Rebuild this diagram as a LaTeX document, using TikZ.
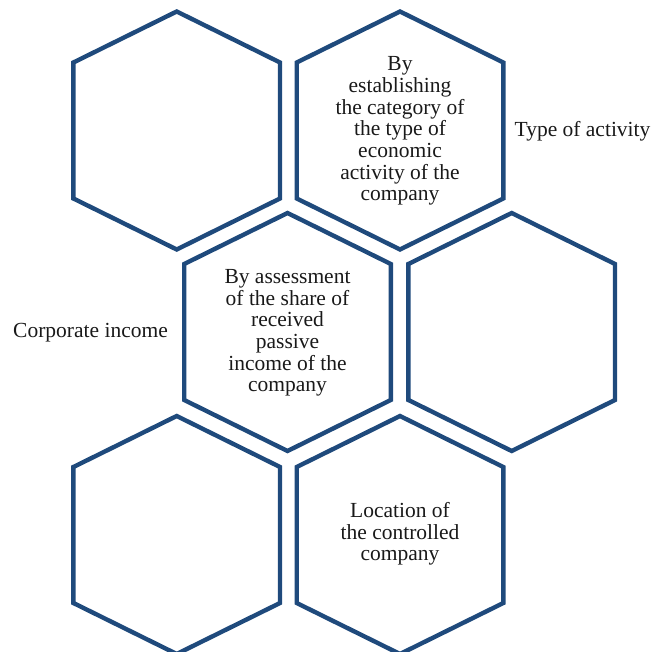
\documentclass[tikz,border=0pt]{standalone}
\usepackage{fontspec}
\setmainfont{Liberation Serif}
\newfontfamily\hexserif{Liberation Serif}
\definecolor{hexblue}{HTML}{1F4A7C}
\tikzset{
  hexline/.style={draw=hexblue, line width=4.4pt, line join=miter},
  hextext/.style={align=center, inner sep=0pt, text=black!90,
    font=\hexserif\fontsize{21.5}{21.7}\selectfont},
}
\newcommand\hexagonat[3]{%
  \coordinate (#1) at (#2,#3);
  \begin{scope}[shift={(#2,#3)}]
    \draw[hexline] (0,-119) -- (103.3,-68) -- (103.3,68) -- (0,119)
      -- (-103.3,68) -- (-103.3,-68) -- cycle;
  \end{scope}}
\begin{document}
\begin{tikzpicture}[x=1pt,y=-1pt]
  \useasboundingbox (0,0) rectangle (652,652);
  \hexagonat{h1}{176.7}{130.5}
  \hexagonat{h2}{400}{130.5}
  \hexagonat{h3}{287.5}{332}
  \hexagonat{h4}{511.7}{332}
  \hexagonat{h5}{176.7}{535}
  \hexagonat{h6}{400}{535}
  \node[hextext] (t2) at (400,131) {By\\establishing\\the category of\\the type of\\economic\\activity of the\\company};
  \node[hextext] (t3) at (287.5,333) {By assessment\\of the share of\\received\\passive\\income of the\\company};
  \node[hextext] (t6) at (400,534) {Location of\\the controlled\\company};
  \node[hextext] (l1) at (582.5,131) {Type of activity};
  \node[hextext] (l2) at (90.5,333) {Corporate income};
\end{tikzpicture}
\end{document}
